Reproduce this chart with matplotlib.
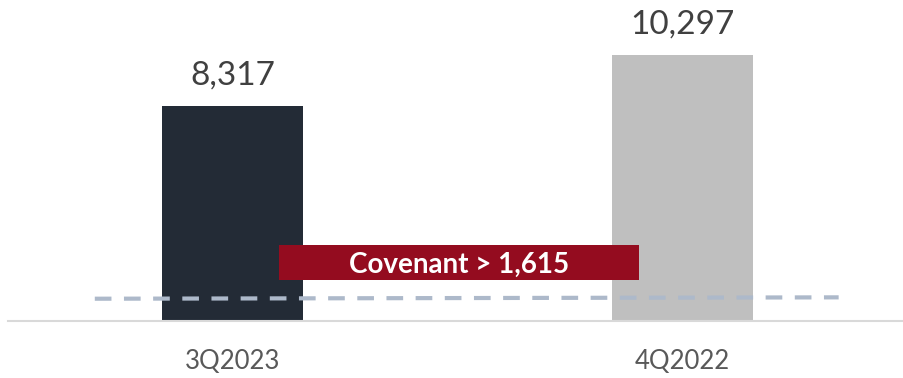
import matplotlib
matplotlib.use("Agg")
import matplotlib.pyplot as plt
from matplotlib.patches import Rectangle

categories = ["3Q2023", "4Q2022"]
values = [8317, 10297]
bar_colors = ["#232B36", "#BFBFBF"]
value_labels = ["8,317", "10,297"]
covenant_text = "Covenant > 1,615"
covenant_line_x = [-0.306, 1.347]
covenant_line_y = [862, 915]

plt.rcParams['font.family'] = ['Lato', 'DejaVu Sans']

fig = plt.figure(figsize=(9.04, 3.78), dpi=100)
ax = fig.add_axes([7.5/904, 57/378, 900/904, 321/378])

x = list(range(len(categories)))
bars = ax.bar(x, values, width=0.312, color=bar_colors, zorder=2)
ax.set_xlim(-0.5, 1.5)
ax.set_ylim(0, 12420)

for xi, v, lab in zip(x, values, value_labels):
    ax.annotate(lab, (xi, v), xytext=(0, 15.5), textcoords="offset points",
                ha="center", va="baseline", fontsize=24, color="#404040")

ax.plot(covenant_line_x, covenant_line_y, linestyle=(0, (4.0, 3.0)),
        color="#ADB9CA", linewidth=3, zorder=3, solid_capstyle="butt",
        dash_capstyle="butt")

rx, rw, ry, rh = 0.3017, 0.3997, 0.1287, 0.108
ax.add_patch(Rectangle((rx, ry), rw, rh, transform=ax.transAxes,
                       facecolor="#940C1F", edgecolor="none", zorder=4))
ax.text(rx + rw/2, ry + rh/2, covenant_text, transform=ax.transAxes,
        ha="center", va="center_baseline", fontsize=20, fontweight="bold", color="white", zorder=5)

for s in ["top", "right", "left"]:
    ax.spines[s].set_visible(False)
ax.spines["bottom"].set_color("#D9D9D9")
ax.spines["bottom"].set_linewidth(1.5)
ax.set_yticks([])
ax.set_xticks(x)
ax.set_xticklabels(categories, fontsize=18.5, color="#595959")
ax.tick_params(axis="x", length=0, pad=20)

fig.savefig("out.png", dpi=100)
